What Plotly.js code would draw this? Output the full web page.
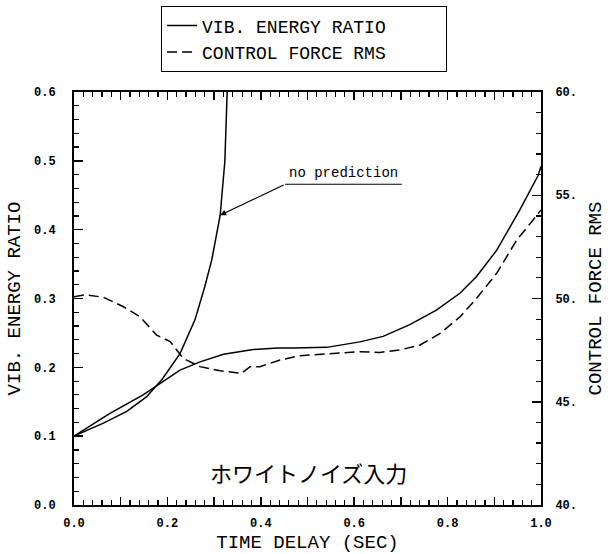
<!DOCTYPE html>
<html>
<head>
<meta charset="utf-8">
<script src="https://cdn.plot.ly/plotly-3.0.1.min.js"></script>
<style>html,body{margin:0;padding:0;background:#fff;}</style>
</head>
<body>
<div id="chart" style="width:614px;height:554px;"></div>
<script>
// Time delay (sec) and VIB. ENERGY RATIO with prediction (solid, left axis)
const xRatio = [0, 0.077, 0.148, 0.188, 0.227, 0.270, 0.320, 0.384, 0.437, 0.470, 0.541, 0.612, 0.662, 0.719, 0.776, 0.827, 0.862, 0.905, 0.955, 0.994, 1.0];
const ratio  = [0.100, 0.133, 0.160, 0.178, 0.196, 0.208, 0.219, 0.226, 0.228, 0.228, 0.229, 0.237, 0.245, 0.262, 0.283, 0.308, 0.332, 0.370, 0.429, 0.479, 0.492];

// VIB. ENERGY RATIO without prediction (solid, left axis)
const xNoPred = [0, 0.063, 0.113, 0.155, 0.188, 0.227, 0.259, 0.280, 0.295, 0.303, 0.313, 0.323, 0.328];
const noPred  = [0.100, 0.119, 0.136, 0.157, 0.182, 0.220, 0.269, 0.317, 0.356, 0.383, 0.421, 0.499, 0.600];

// CONTROL FORCE RMS (dashed, right axis)
const xForce = [0, 0.024, 0.063, 0.106, 0.141, 0.177, 0.206, 0.234, 0.270, 0.313, 0.359, 0.377, 0.398, 0.441, 0.484, 0.541, 0.612, 0.655, 0.698, 0.741, 0.784, 0.827, 0.862, 0.905, 0.948, 0.983, 1.0];
const force  = [50.09, 50.18, 50.06, 49.60, 49.12, 48.23, 47.91, 47.10, 46.70, 46.50, 46.38, 46.70, 46.70, 47.02, 47.23, 47.31, 47.42, 47.39, 47.51, 47.75, 48.31, 49.12, 50.01, 51.22, 52.83, 53.80, 54.29];

// Tick labels
const xTickVals = [0, 0.1, 0.2, 0.3, 0.4, 0.5, 0.6, 0.7, 0.8, 0.9, 1.0];
const xTickText = ["0.0", "", "0.2", "", "0.4", "", "0.6", "", "0.8", "", "1.0"];
const yTickVals = [0, 0.1, 0.2, 0.3, 0.4, 0.5, 0.6];
const yTickText = ["0.0", "0.1", "0.2", "0.3", "0.4", "0.5", "0.6"];
const y2TickVals = [40, 45, 50, 55, 60];
const y2TickText = ["40.", "45.", "50.", "55.", "60."];

const labelFont = {family: "Liberation Mono", size: 19, color: "#000"};
const tickFont = {family: "Liberation Mono", size: 12, color: "#000", weight: "bold"};
const pad = "\u00a0\u00a0\u00a0\u00a0\u00a0";
const minorColor = "#000";

const traces = [
  {x: xRatio, y: ratio, type: "scatter", mode: "lines", name: "VIB. ENERGY RATIO" + pad,
   line: {color: "#000", width: 1.5}, yaxis: "y"},
  {x: xForce, y: force, type: "scatter", mode: "lines", name: "CONTROL FORCE RMS",
   line: {color: "#000", width: 1.5, dash: "10px,5px"}, yaxis: "y2"},
  {x: xNoPred, y: noPred, type: "scatter", mode: "lines", name: "no prediction",
   line: {color: "#000", width: 1.5}, yaxis: "y", showlegend: false}
];

const layout = {
  width: 614, height: 554,
  margin: {l: 74, r: 73, t: 92, b: 49, pad: 0, autoexpand: false},
  paper_bgcolor: "#fff", plot_bgcolor: "#fff",
  showlegend: true,
  legend: {x: 0.186, xanchor: "left", y: 1.208, yanchor: "top",
    bordercolor: "#000", borderwidth: 1.2, bgcolor: "#fff",
    font: {family: "Liberation Mono", size: 18, color: "#000"}, tracegroupgap: 0},
  xaxis: {
    range: [0, 1], tickmode: "array", tickvals: xTickVals, ticktext: xTickText,
    ticks: "inside", ticklen: 8, tickwidth: 1.5, tickcolor: "#000",
    minor: {tickmode: "linear", tick0: 0, dtick: 0.02, ticks: "inside", ticklen: 5, tickwidth: 1.2, tickcolor: minorColor},
    showline: true, linecolor: "#000", linewidth: 2, mirror: "ticks",
    showgrid: false, zeroline: false, tickfont: tickFont, ticklabelstandoff: 6,
    title: {text: "TIME DELAY (SEC)", font: labelFont, standoff: 4}
  },
  yaxis: {
    range: [0, 0.6], tickmode: "array", tickvals: yTickVals, ticktext: yTickText,
    ticks: "inside", ticklen: 9, tickwidth: 1.5, tickcolor: "#000",
    minor: {tickmode: "linear", tick0: 0, dtick: 0.02, ticks: "inside", ticklen: 5, tickwidth: 1.2, tickcolor: minorColor},
    showline: true, linecolor: "#000", linewidth: 2,
    showgrid: false, zeroline: false, tickfont: tickFont, ticklabelstandoff: 14,
    title: {text: "VIB. ENERGY RATIO", font: labelFont, standoff: 8}
  },
  yaxis2: {
    range: [40, 60], overlaying: "y", side: "right", tickmode: "array", tickvals: y2TickVals, ticktext: y2TickText,
    ticks: "inside", ticklen: 9, tickwidth: 1.5, tickcolor: "#000",
    minor: {tickmode: "linear", tick0: 40, dtick: 1, ticks: "inside", ticklen: 5, tickwidth: 1.2, tickcolor: minorColor},
    showline: true, linecolor: "#000", linewidth: 2,
    showgrid: false, zeroline: false, tickfont: tickFont, ticklabelstandoff: 10,
    title: {text: "CONTROL FORCE RMS", font: labelFont, standoff: 12}
  },
  shapes: [
    {type: "line", xref: "x", yref: "y", x0: 0.452, y0: 0.466, x1: 0.702, y1: 0.466,
     line: {color: "#000", width: 1.2}}
  ],
  annotations: [
    {text: "no prediction", xref: "x", yref: "y", x: 0.578, y: 0.482, showarrow: false,
     font: {family: "Liberation Mono", size: 14, color: "#000"}},
    {text: "", xref: "x", yref: "y", x: 0.313, y: 0.421, axref: "x", ayref: "y", ax: 0.452, ay: 0.466,
     showarrow: true, arrowhead: 2, arrowsize: 1, arrowwidth: 1.2, arrowcolor: "#000"},
    {text: "ホワイトノイズ入力", xref: "x", yref: "y", x: 0.503, y: 0.048, showarrow: false,
     font: {family: "Noto Sans CJK JP", size: 22, color: "#000"}}
  ]
};

Plotly.newPlot("chart", traces, layout, {displayModeBar: false, staticPlot: true});
</script>
</body>
</html>
